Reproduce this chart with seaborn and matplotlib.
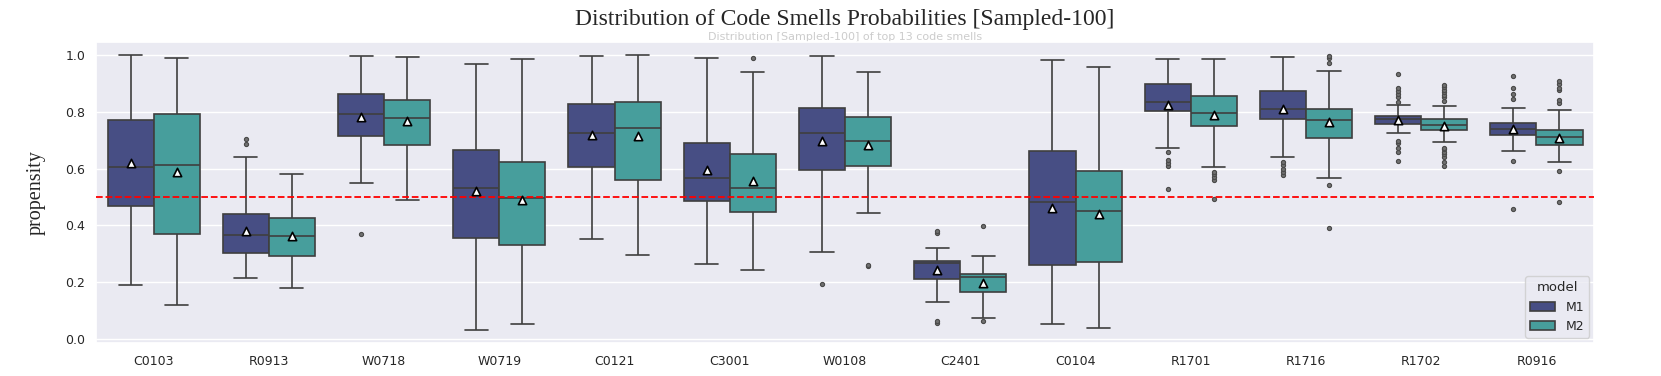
import numpy as np
import pandas as pd
import matplotlib
matplotlib.use("Agg")
import matplotlib.pyplot as plt
import seaborn as sns

categories = ["C0103", "R0913", "W0718", "W0719", "C0121", "C3001", "W0108",
              "C2401", "C0104", "R1701", "R1716", "R1702", "R0916"]
models = ["M1", "M2"]

# ---- M1 box statistics ----
m1_q1 = [0.468, 0.302, 0.715, 0.354, 0.605, 0.485, 0.596, 0.212, 0.261, 0.805, 0.776, 0.758, 0.719]
m1_med = [0.605, 0.366, 0.794, 0.533, 0.727, 0.567, 0.725, 0.266, 0.482, 0.834, 0.811, 0.774, 0.741]
m1_q3 = [0.772, 0.440, 0.865, 0.665, 0.827, 0.691, 0.813, 0.275, 0.664, 0.899, 0.874, 0.786, 0.761]
m1_lo = [0.188, 0.213, 0.549, 0.031, 0.352, 0.264, 0.305, 0.131, 0.052, 0.674, 0.641, 0.727, 0.664]
m1_hi = [1.000, 0.642, 0.996, 0.969, 0.999, 0.992, 0.996, 0.319, 0.982, 0.986, 0.994, 0.825, 0.813]
m1_mean = [0.619, 0.381, 0.782, 0.521, 0.719, 0.594, 0.698, 0.244, 0.460, 0.826, 0.809, 0.771, 0.740]
m1_out = [[], [0.686, 0.705], [0.368], [], [], [], [0.192],
          [0.056, 0.064, 0.374, 0.381], [],
          [0.529, 0.611, 0.619, 0.631, 0.658],
          [0.578, 0.588, 0.600, 0.612, 0.622],
          [0.627, 0.658, 0.674, 0.689, 0.698, 0.834, 0.854, 0.865, 0.874, 0.884, 0.933],
          [0.456, 0.628, 0.846, 0.865, 0.884, 0.926]]

# ---- M2 box statistics ----
m2_q1 = [0.368, 0.291, 0.682, 0.329, 0.561, 0.446, 0.608, 0.165, 0.272, 0.752, 0.709, 0.735, 0.685]
m2_med = [0.613, 0.364, 0.780, 0.495, 0.744, 0.533, 0.698, 0.218, 0.452, 0.798, 0.771, 0.753, 0.711]
m2_q3 = [0.794, 0.426, 0.842, 0.624, 0.835, 0.651, 0.781, 0.229, 0.591, 0.858, 0.809, 0.775, 0.736]
m2_lo = [0.119, 0.178, 0.488, 0.052, 0.296, 0.242, 0.444, 0.072, 0.039, 0.607, 0.568, 0.694, 0.622]
m2_hi = [0.989, 0.580, 0.994, 0.986, 1.000, 0.941, 0.941, 0.292, 0.958, 0.986, 0.946, 0.821, 0.807]
m2_mean = [0.589, 0.362, 0.768, 0.489, 0.715, 0.556, 0.684, 0.195, 0.440, 0.789, 0.764, 0.752, 0.709]
m2_out = [[], [], [], [], [], [0.989], [0.255, 0.260], [0.063, 0.398], [],
          [0.494, 0.561, 0.571, 0.580, 0.588],
          [0.392, 0.542, 0.973, 0.992, 0.999],
          [0.611, 0.625, 0.642, 0.651, 0.660, 0.668, 0.672,
           0.838, 0.852, 0.860, 0.869, 0.878, 0.887, 0.895],
          [0.481, 0.591, 0.832, 0.842, 0.876, 0.884, 0.898, 0.908]]

threshold = 0.5
title = "Distribution of Code Smells Probabilities [Sampled-100]"
subtitle = "Distribution [Sampled-100] of top 13 code smells"
colors = {"M1": "#474e84", "M2": "#479e9c"}

stats = {
    "M1": (m1_lo, m1_q1, m1_med, m1_q3, m1_hi, m1_out, m1_mean),
    "M2": (m2_lo, m2_q1, m2_med, m2_q3, m2_hi, m2_out, m2_mean),
}


def box_values(lo, q1, med, q3, hi, outliers, k=40):
    # sample whose quartiles / whiskers / fliers equal the read statistics
    return list(outliers) + [lo] + [q1] * k + [med] * k + [q3] * k + [hi]


rows, mean_rows = [], []
for m in models:
    lo, q1, med, q3, hi, out, mean = stats[m]
    for i, c in enumerate(categories):
        for v in box_values(lo[i], q1[i], med[i], q3[i], hi[i], out[i]):
            rows.append({"smell": c, "model": m, "propensity": v})
        mean_rows.append({"smell": c, "model": m, "mean": mean[i]})
df = pd.DataFrame(rows)
mdf = pd.DataFrame(mean_rows)

sns.set_theme(style="darkgrid")
fig = plt.figure(figsize=(16.61, 3.76), dpi=100)
ax = fig.add_axes([0.0578, 0.0878, 0.9019, 0.8005])

sns.boxplot(data=df, x="smell", y="propensity", hue="model",
            order=categories, hue_order=models, palette=colors,
            saturation=1, width=0.8, linewidth=1.2, linecolor="#3f3f3f",
            fliersize=3,
            flierprops=dict(marker="o", markerfacecolor="#707070",
                            markeredgecolor="#4a4a4a", markeredgewidth=0.8),
            ax=ax)

sns.stripplot(data=mdf, x="smell", y="mean", hue="model",
              order=categories, hue_order=models,
              palette={"M1": "white", "M2": "white"},
              dodge=True, jitter=False, marker="^", size=6,
              edgecolor="black", linewidth=1.2, legend=False, zorder=6, ax=ax)

ax.axhline(threshold, color="red", linestyle="--", linewidth=1.3, zorder=4)

ax.set_ylim(-0.015, 1.047)
ax.set_yticks([0.0, 0.2, 0.4, 0.6, 0.8, 1.0])
ax.set_xlabel("")
ax.set_ylabel("propensity", fontsize=14.5, family="Liberation Serif", labelpad=14)
ax.set_title(title, fontsize=17, family="Liberation Serif", pad=12)
ax.tick_params(axis="both", length=0)
ax.tick_params(axis="x", labelsize=9, pad=8.6)
ax.tick_params(axis="y", labelsize=9, pad=7.7)

fig.text(845 / 1661, 1 - 36.5 / 376, subtitle, ha="center", va="center",
         fontsize=8, color="#cccccc", zorder=-1)

sns.move_legend(ax, "lower right", title="model", fontsize=9,
                title_fontsize=9.5, frameon=True, borderaxespad=0.4)

fig.savefig("out.png", dpi=100)
